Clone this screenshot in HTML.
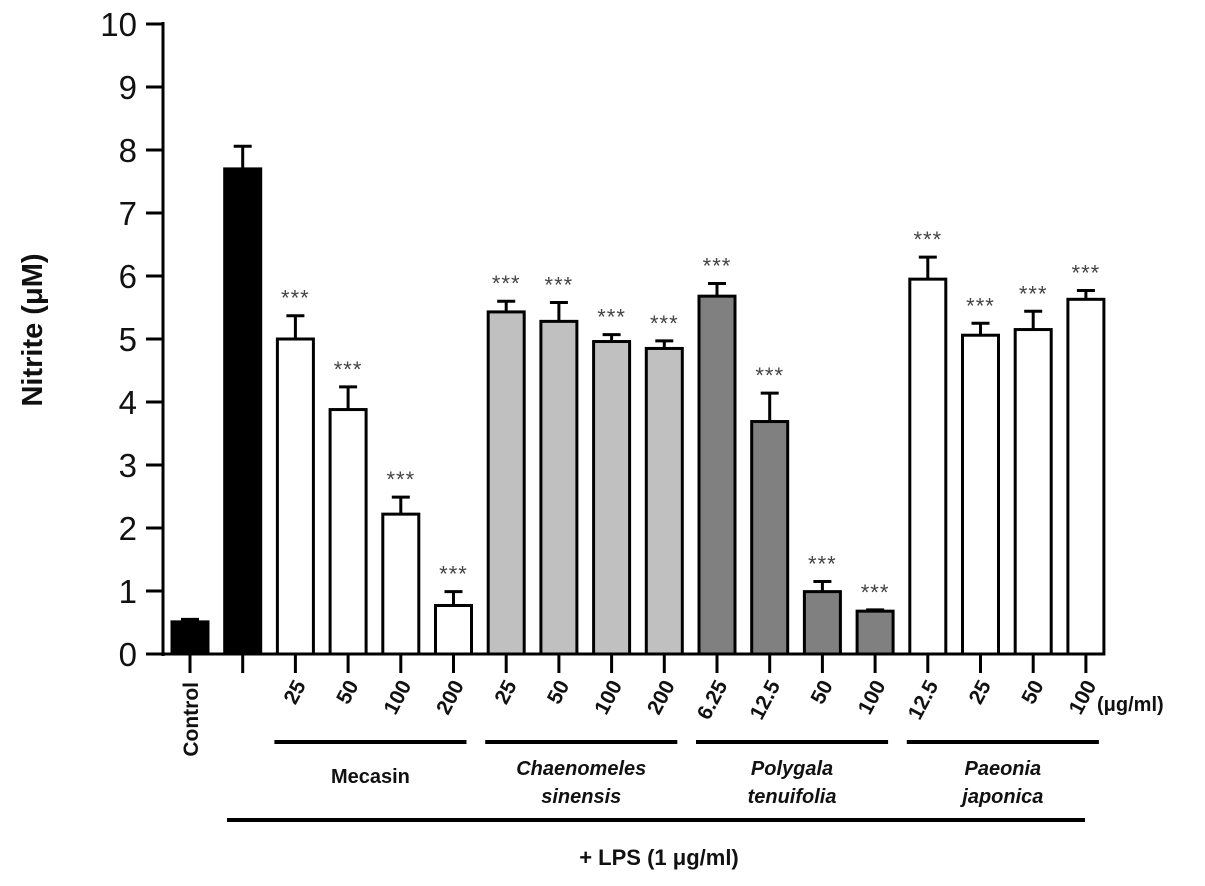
<!DOCTYPE html>
<html><head><meta charset="utf-8"><style>
html,body{margin:0;padding:0;background:#fff}
svg text{font-family:"Liberation Sans",Arial,sans-serif}
</style></head><body>
<svg id="chart" width="1205" height="881" viewBox="0 0 1205 881"></svg>
<script>
const categories=["Control","LPS","25","50","100","200","25","50","100","200","6.25","12.5","50","100","12.5","25","50","100"];
const values=[0.51,7.7,5.0,3.88,2.22,0.77,5.43,5.28,4.96,4.85,5.68,3.69,0.99,0.68,5.95,5.06,5.15,5.63];
const errors=[0.04,0.36,0.37,0.36,0.27,0.22,0.17,0.3,0.11,0.12,0.2,0.45,0.16,0.02,0.35,0.19,0.29,0.14];
const fills=["#000","#000","#fff","#fff","#fff","#fff","#c0c0c0","#c0c0c0","#c0c0c0","#c0c0c0","#808080","#808080","#808080","#808080","#fff","#fff","#fff","#fff"];
const sig=[false,false,true,true,true,true,true,true,true,true,true,true,true,true,true,true,true,true];
const yTicks=[0,1,2,3,4,5,6,7,8,9,10];
const groups=[{name:["Mecasin"],from:2,to:5,italic:false},{name:["Chaenomeles","sinensis"],from:6,to:9,italic:true},{name:["Polygala","tenuifolia"],from:10,to:13,italic:true},{name:["Paeonia","japonica"],from:14,to:17,italic:true}];

const svg=document.getElementById('chart');
const NS='http://www.w3.org/2000/svg';
const y=v=>654-63*v;
const x=i=>190+52.7*i;
const BW=36;
function mk(tag,attrs,parent){const e=document.createElementNS(NS,tag);for(const k in attrs)e.setAttribute(k,attrs[k]);(parent||svg).appendChild(e);return e;}

let e=mk('line',{x1:163,y1:y(10)-2,x2:163,y2:656,stroke:'#000','stroke-width':3});


e=mk('line',{x1:161,y1:654,x2:1105,y2:654,stroke:'#000','stroke-width':3});


yTicks.forEach(t=>{
  const l=mk('line',{x1:146,y1:y(t),x2:163,y2:y(t),stroke:'#000','stroke-width':3});
  
  
  const tx=mk('text',{x:137,y:y(t)+12,'text-anchor':'end','font-size':33,fill:'#111'});
  tx.textContent=t;
  
  
});
e=mk('text',{transform:'translate(42,330) rotate(-90)','text-anchor':'middle','font-size':29,'font-weight':'bold',fill:'#111'});
e.textContent='Nitrite (μM)';



values.forEach((v,i)=>{
  const cx=x(i);
  const et=mk('line',{x1:cx,y1:y(v),x2:cx,y2:y(v+errors[i]),stroke:'#000','stroke-width':3});
  
  
  const cap=mk('line',{x1:cx-9,y1:y(v+errors[i]),x2:cx+9,y2:y(v+errors[i]),stroke:'#000','stroke-width':3});
  
  
  const r=mk('rect',{x:cx-BW/2,y:y(v),width:BW,height:654-y(v),fill:fills[i],stroke:'#000','stroke-width':3});
  
  
  const tk=mk('line',{x1:cx,y1:654,x2:cx,y2:673,stroke:'#000','stroke-width':3});
  
  
  if(sig[i]){
    const s=mk('text',{x:cx,y:y(v+errors[i])-10,'text-anchor':'middle','font-size':22,'letter-spacing':1,fill:'#444'});
    s.textContent='***';
    
    
  }
  if(i===0){
    const c=mk('text',{transform:`translate(${cx+8},682) rotate(-90)`,'text-anchor':'end','font-size':21,'font-weight':'bold',fill:'#111'});
    c.textContent=categories[i];
    
    
  } else if(i>1){
    const c=mk('text',{transform:`translate(${cx+11},685) rotate(-62)`,'text-anchor':'end','font-size':21,'font-weight':'bold',fill:'#111'});
    c.textContent=categories[i];
    
    
  }
});
e=mk('text',{x:1097,y:711,'font-size':20,'font-weight':'bold',fill:'#111'});
e.textContent='(μg/ml)';



groups.forEach(g=>{
  const x0=x(g.from)-21,x1=x(g.to)+13;
  const l=mk('line',{x1:x0,y1:742,x2:x1,y2:742,stroke:'#000','stroke-width':4});
  
  
  g.name.forEach((n,k)=>{
    const ty=g.name.length===1?783:775+k*28;
    const t=mk('text',{x:(x0+x1)/2,y:ty,'text-anchor':'middle','font-size':20,'font-weight':'bold','font-style':g.italic?'italic':'normal',fill:'#111'});
    t.textContent=n;
    
    
  });
});
e=mk('line',{x1:227,y1:820,x2:1085,y2:820,stroke:'#000','stroke-width':4});


e=mk('text',{x:659,y:865,'text-anchor':'middle','font-size':22,'font-weight':'bold',fill:'#111'});
e.textContent='+ LPS (1 μg/ml)';


</script>
</body></html>
